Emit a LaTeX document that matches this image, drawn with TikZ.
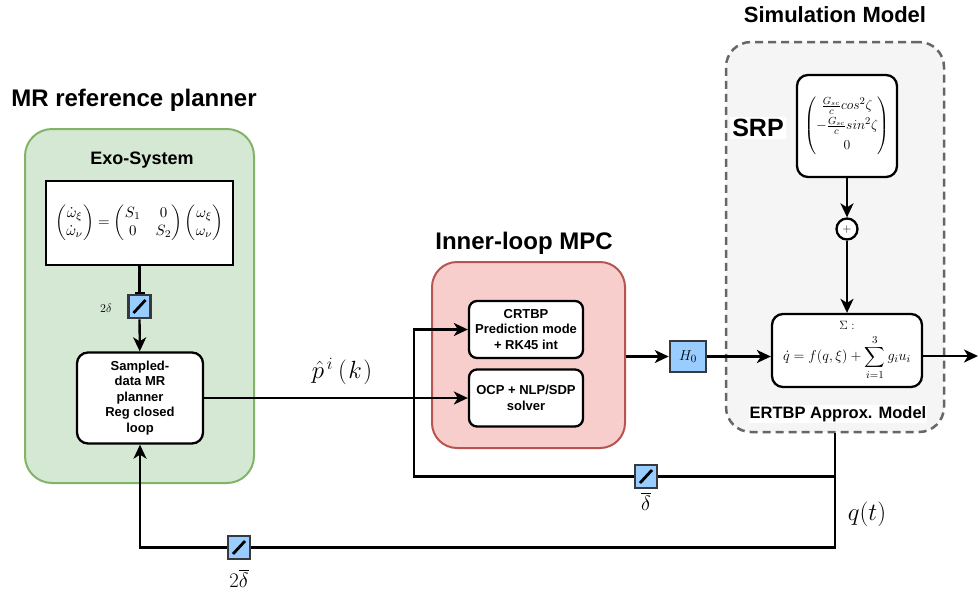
\documentclass[tikz,border=0pt]{standalone}
\usepackage[no-math]{fontspec}
\usepackage{amsmath}
\usepackage{graphicx}
\usetikzlibrary{arrows.meta,calc}
\newfontfamily\lsans{Liberation Sans}
\definecolor{grfill}{HTML}{D5E8D4}\definecolor{grline}{HTML}{82B366}
\definecolor{rdfill}{HTML}{F8CECC}\definecolor{rdline}{HTML}{B85450}
\definecolor{gyfill}{HTML}{F5F5F5}\definecolor{gyline}{HTML}{666666}
\definecolor{smpfill}{HTML}{99CCFF}\definecolor{smpline}{HTML}{36393D}
\tikzset{
  ttl/.style={font=\lsans\bfseries\fontsize{24}{28}\selectfont, inner sep=1pt},
  grp/.style={line width=2pt, inner sep=0pt},
  blk/.style={draw=black, line width=2.3pt, fill=white, rounded corners=11pt, align=center, inner sep=2pt,
     font=\lsans\bfseries\fontsize{13}{15.5}\selectfont},
  smp/.style={draw=smpline, line width=2.5pt, fill=smpfill, minimum width=22pt, minimum height=23pt, inner sep=0pt,
     path picture={\draw[line width=2.8pt,black] ($(path picture bounding box.south west)+(5,-5)$) -- ($(path picture bounding box.north east)+(-5,5)$);}},
  wire/.style={line width=2.3pt, draw=black},
  conn/.style={wire, -{Stealth[length=14pt,width=13pt,inset=4pt]}},
}
\begin{document}
\begin{tikzpicture}[x=1pt,y=-1pt]
\useasboundingbox (0,0) rectangle (979,595);
% ---- left group
\node[ttl] (mrt) at (134,100) {MR reference planner};
\node[grp, draw=grline, fill=grfill, rounded corners=27pt, minimum width=229, minimum height=354] (mr) at (139.5,306) {};
\node[font=\lsans\bfseries\fontsize{18}{20}\selectfont, inner sep=1pt] (exot) at (142,160) {Exo-System};
\node[draw=black, line width=2.3pt, fill=white, minimum width=187, minimum height=84, inner sep=0pt] (exo) at (139.5,223)
 {\resizebox{168pt}{!}{$\begin{pmatrix}\dot{\omega}_\xi\\ \dot{\omega}_\nu\end{pmatrix}=\begin{pmatrix}S_1 & 0\\ 0 & S_2\end{pmatrix}\begin{pmatrix}\omega_\xi\\ \omega_\nu\end{pmatrix}$}};
\node[smp] (s1) at (139.5,306.5) {};
\node[font=\fontsize{12.5}{14}\selectfont] (l2d) at (106,308) {$2\delta$};
\node[blk, minimum width=126, minimum height=91] (samp) at (140,398) {Sampled-\\data MR\\planner\\Reg closed\\loop};
% ---- inner loop
\node[ttl] (mpct) at (524,243) {Inner-loop MPC};
\node[grp, draw=rdline, fill=rdfill, rounded corners=25pt, minimum width=193, minimum height=186] (red) at (528.5,355) {};
\node[blk, rounded corners=8pt, minimum width=114, minimum height=57] (crt) at (526,329.5) {CRTBP\\Prediction mode\\+ RK45 int};
\node[blk, rounded corners=8pt, minimum width=114, minimum height=57] (ocp) at (526,398) {OCP + NLP/SDP\\solver};
\node[draw=smpline, line width=2.5pt, fill=smpfill, minimum width=36, minimum height=31, inner sep=0pt, font=\fontsize{15}{16}\selectfont] (h0) at (688,356.5) {$H_0$};
% ---- simulation model
\node[font=\lsans\bfseries\fontsize{22}{26}\selectfont, inner sep=1pt] (simt) at (835,15) {Simulation Model};
\node[grp, draw=gyline, fill=gyfill, line width=2.5pt, dash pattern=on 8pt off 5pt, rounded corners=25pt, minimum width=218, minimum height=390] (sim) at (835,237) {};
\node[font=\lsans\bfseries\fontsize{25}{28}\selectfont, fill=white, inner sep=2pt] (srpt) at (758,128) {SRP};
\node[blk, minimum width=100, minimum height=102, inner sep=0pt] (srp) at (847,126)
 {\resizebox{86pt}{!}{$\begin{pmatrix}\frac{G_{sc}}{c}cos^2\zeta\\[2pt] -\frac{G_{sc}}{c}sin^2\zeta\\[2pt] 0\end{pmatrix}$}};
\node[circle, draw=black, line width=2.3pt, fill=white, minimum size=21, inner sep=0pt, font=\fontsize{13}{13}\selectfont] (sum) at (847,229) {$+$};
\node[blk, minimum width=150, minimum height=73, inner sep=0pt, font=\fontsize{13}{15}\selectfont] (sig) at (847,350.5)
 {$\Sigma:$\\[4pt]\resizebox{128pt}{!}{$\dot q=f(q,\xi)+\displaystyle\sum_{i=1}^{3}g_iu_i$}};
\node[font=\lsans\bfseries\fontsize{16.5}{18}\selectfont, fill=white, inner sep=1pt] (ertt) at (838,414) {ERTBP Approx. Model};
% ---- labels
\node[font=\fontsize{23}{26}\selectfont] (phat) at (342,371) {$\hat{p}^{\,i}\hspace{5pt}(\hspace{1.5pt}k\hspace{1.5pt})$};
\node[smp] (s2) at (646,476.5) {};
\node[font=\fontsize{21}{24}\selectfont] (ldb) at (646,501) {$\overline{\delta}$};
\node[smp] (s3) at (239,547.5) {};
\node[font=\fontsize{22}{24}\selectfont] (l2db) at (239,578) {$2\overline{\delta}$};
\node[font=\fontsize{27}{30}\selectfont] (qt) at (867,514) {$q(t)$};
\coordinate (jn) at ($(crt.west)+(-54,0)$);
\coordinate (out) at (978,356);
% ---- connectors
\draw[wire, -{Bar[width=10pt,line width=2pt]}] (exo) -- (s1);
\draw[conn] (s1) -- (samp);
\draw[conn] (samp.east) -- (ocp.west);
\draw[conn] (red.east |- h0.west) -- (h0.west);
\draw[conn] (h0.east) -- (h0.east -| sig.west);
\draw[conn] (sig.east |- out) -- (out);
\draw[conn] (srp) -- (sum);
\draw[conn] (sum) -- (sig);
\draw[wire] (sim.south) |- (s2.east);
\draw[conn] (s2.west) -| (jn) -- (crt.west);
\draw[wire] (sim.south) |- (s3.east);
\draw[conn] (s3.west) -| (samp.south);
\end{tikzpicture}
\end{document}
